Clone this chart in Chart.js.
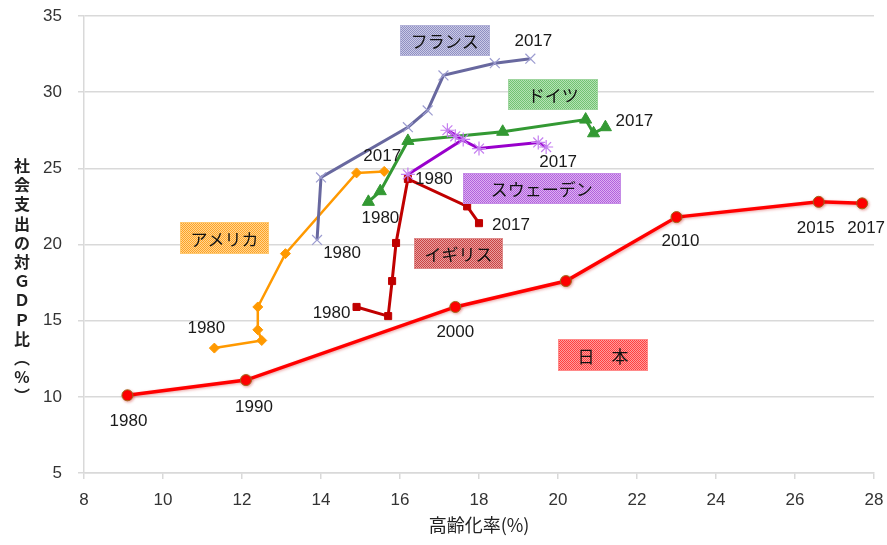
<!DOCTYPE html>
<html><head><meta charset="utf-8">
<script src="https://cdn.jsdelivr.net/npm/chart.js@4/dist/chart.umd.min.js"></script>
<style>html,body{margin:0;padding:0;background:#fff;}canvas{display:block;}</style>
</head><body>
<canvas id="c" width="887" height="545"></canvas>
<script>
// ---- data (x: 高齢化率 %, y: 社会支出の対GDP比 %) ----
const japanX   = [9.1, 12.1, 17.4, 20.2, 23.0, 26.6, 27.7];
const japanY   = [10.1, 11.1, 15.9, 17.6, 21.8, 22.8, 22.7];
const japanYears = ['1980', '1990', '2000', '', '2010', '2015', '2017'];

const usaX     = [11.3, 12.5, 12.4, 12.4, 13.1, 14.9, 15.6];
const usaY     = [13.2, 13.7, 14.4, 15.9, 19.4, 24.7, 24.8];
const usaYears = ['1980', '', '', '', '', '', '2017'];

const ukX      = [14.9, 15.7, 15.8, 15.9, 16.2, 17.7, 18.0];
const ukY      = [15.9, 15.3, 17.6, 20.1, 24.3, 22.5, 21.4];
const ukYears  = ['1980', '', '', '', '', '', '2017'];

const franceX  = [13.9, 14.0, 16.2, 16.7, 17.1, 18.4, 19.3];
const franceY  = [20.3, 24.4, 27.7, 28.8, 31.1, 31.9, 32.2];
const franceYears = ['1980', '', '', '', '', '', '2017'];

const germanyX = [15.2, 15.5, 16.2, 18.6, 20.7, 20.9, 21.2];
const germanyY = [22.8, 23.5, 26.8, 27.4, 28.2, 27.3, 27.7];
const germanyYears = ['1980', '', '', '', '', '', '2017'];

const swedenX  = [16.2, 17.6, 17.2, 17.4, 18.0, 19.5, 19.7];
const swedenY  = [24.6, 26.9, 27.5, 27.1, 26.3, 26.7, 26.4];
const swedenYears = ['1980', '', '', '', '', '', '2017'];

const countryNames = ['スウェーデン', 'ドイツ', 'イギリス', 'フランス', 'アメリカ', '日　本'];
// box anchor (data coordinates) for each country name
const boxAnchorX = [19.59, 19.88, 17.48, 17.13, 11.56, 21.14];
const boxAnchorY = [23.69, 29.83, 19.38, 33.40, 20.40, 12.73];

const xTicksMin = 8, xTicksMax = 28, xStep = 2;
const yTicksMin = 5, yTicksMax = 35, yStep = 5;
const xTitle = '高齢化率(%)';
const yTitleChars = ['社','会','支','出','の','対','Ｇ','Ｄ','Ｐ','比','︵','%','︶'];

// ---- styles ----
const toPts = (xs, ys) => xs.map((v, i) => ({x: v, y: ys[i]}));

const boxStyles = [
  {w: 158, h: 31, c1: '#b262dc', c2: '#dcb0f2', border: '#c58be6'},
  {w: 90,  h: 31, c1: '#72c272', c2: '#b4e2b4', border: '#9fd59f'},
  {w: 89,  h: 31, c1: '#c94444', c2: '#ea9e9e', border: '#de8a8a'},
  {w: 90,  h: 31, c1: '#9090c2', c2: '#cacae6', border: '#b2b2d8'},
  {w: 89,  h: 32, c1: '#ffa424', c2: '#ffd494', border: '#ffc870'},
  {w: 90,  h: 32, c1: '#ff4040', c2: '#ff9c9c', border: '#ff8a8a'}
];
// year label offsets (px) relative to the point, per dataset index & point index
const yearOffsets = [
  {0: [26, 5],   6: [12, 15]},          // Sweden
  {0: [12, 16],  6: [29, -6]},          // Germany
  {0: [-25, 6],  6: [32, 2]},           // UK
  {0: [25, 13],  6: [3, -17]},          // France
  {0: [-8, -20], 6: [-2, -15]},         // USA
  {0: [1, 26], 1: [8, 27], 2: [0, 25], 4: [4, 24], 5: [-3, 26], 6: [4, 25]} // Japan
];

function makePattern(ctx, c1, c2) {
  const p = document.createElement('canvas');
  p.width = 2; p.height = 2;
  const g = p.getContext('2d');
  g.fillStyle = c2; g.fillRect(0, 0, 2, 2);
  g.fillStyle = c1; g.fillRect(0, 0, 1, 1); g.fillRect(1, 1, 1, 1);
  return ctx.createPattern(p, 'repeat');
}

const annot = {
  id: 'annot',
  beforeDatasetDraw(chart, args) {
    if (args.index === 5) {
      const ctx = chart.ctx;
      ctx.save();
      ctx.shadowColor = 'rgba(200,0,0,0.35)';
      ctx.shadowBlur = 3;
      ctx.shadowOffsetX = 1; ctx.shadowOffsetY = 1;
    }
  },
  afterDatasetDraw(chart, args) {
    if (args.index === 5) chart.ctx.restore();
  },
  afterDatasetsDraw(chart) {
    const {ctx, scales: {x, y}} = chart;
    ctx.save();
    // year labels
    ctx.font = '17px "Liberation Sans", Arial, sans-serif';
    ctx.fillStyle = '#1a1a1a';
    ctx.textAlign = 'center';
    ctx.textBaseline = 'middle';
    chart.data.datasets.forEach((ds, di) => {
      const offs = yearOffsets[di];
      ds.years.forEach((yr, i) => {
        if (!yr || !offs[i]) return;
        const px = x.getPixelForValue(ds.data[i].x) + offs[i][0];
        const py = y.getPixelForValue(ds.data[i].y) + offs[i][1];
        ctx.fillText(yr, px, py);
      });
    });
    // country boxes
    ctx.font = '17px "Noto Sans CJK JP", sans-serif';
    countryNames.forEach((name, i) => {
      const s = boxStyles[i];
      const cx = x.getPixelForValue(boxAnchorX[i]);
      const cy = y.getPixelForValue(boxAnchorY[i]);
      const l = Math.round(cx - s.w / 2), t = Math.round(cy - s.h / 2);
      ctx.fillStyle = makePattern(ctx, s.c1, s.c2);
      ctx.fillRect(l, t, s.w, s.h);
      ctx.strokeStyle = s.border;
      ctx.lineWidth = 1;
      ctx.strokeRect(l + 0.5, t + 0.5, s.w - 1, s.h - 1);
      ctx.fillStyle = '#111';
      ctx.fillText(name, cx, cy + 1);
    });
    ctx.restore();
  },
  afterDraw(chart) {
    const {ctx, chartArea} = chart;
    ctx.save();
    ctx.fillStyle = '#222';
    ctx.textAlign = 'center';
    ctx.textBaseline = 'middle';
    ctx.font = '18px "Noto Sans CJK JP", sans-serif';
    ctx.fillText(xTitle, (chartArea.left + chartArea.right) / 2, 525);
    ctx.font = 'bold 16px "Noto Sans CJK JP", sans-serif';
    const step = 19.2, start = 166;
    yTitleChars.forEach((ch, i) => ctx.fillText(ch, 22, start + i * step));
    ctx.restore();
  }
};

const mk = (label, xs, ys, years, color, style) => Object.assign({
  label, data: toPts(xs, ys), years,
  showLine: true, borderColor: color, backgroundColor: color,
  pointBackgroundColor: color, pointBorderColor: color,
  tension: 0, clip: false
}, style);

const datasets = [
  mk('スウェーデン', swedenX, swedenY, swedenYears, '#9900cc',
     {borderWidth: 3, pointStyle: 'star', pointRadius: 7, pointBorderColor: '#c57ff0', pointBorderWidth: 1.2}),
  mk('ドイツ', germanyX, germanyY, germanyYears, '#339933',
     {borderWidth: 3, pointStyle: 'triangle', pointRadius: 7, pointBorderWidth: 1}),
  mk('イギリス', ukX, ukY, ukYears, '#c00000',
     {borderWidth: 3, pointStyle: 'rect', pointRadius: 5, pointBorderWidth: 1}),
  mk('フランス', franceX, franceY, franceYears, '#68689f',
     {borderWidth: 3, pointStyle: 'crossRot', pointRadius: 7, pointBorderColor: '#9c9cd0', pointBorderWidth: 1.2}),
  mk('アメリカ', usaX, usaY, usaYears, '#ff9900',
     {borderWidth: 2.5, pointStyle: 'rectRot', pointRadius: 5, pointBorderWidth: 1}),
  mk('日本', japanX, japanY, japanYears, '#ff0000',
     {borderWidth: 3.5, pointStyle: 'circle', pointRadius: 5.5, pointBorderColor: '#9c6a1a', pointBorderWidth: 1})
];

new Chart(document.getElementById('c'), {
  type: 'scatter',
  data: {datasets},
  options: {
    responsive: false,
    devicePixelRatio: 1,
    animation: false,
    events: [],
    layout: {padding: {top: 16, right: 13, bottom: 0, left: 0}},
    plugins: {legend: {display: false}, tooltip: {enabled: false}},
    scales: {
      x: {
        type: 'linear', min: xTicksMin, max: xTicksMax,
        ticks: {stepSize: xStep, color: '#333', padding: 11,
                font: {family: '"Liberation Sans", Arial, sans-serif', size: 17}},
        grid: {drawOnChartArea: false, drawTicks: true, tickLength: 6, color: '#d9d9d9', lineWidth: 1.5},
        border: {display: true, color: '#d9d9d9', width: 1.5},
        afterFit(s) { s.height = 72; s.paddingLeft = 0; s.paddingRight = 0; }
      },
      y: {
        type: 'linear', min: yTicksMin, max: yTicksMax,
        ticks: {stepSize: yStep, color: '#333', padding: 16,
                font: {family: '"Liberation Sans", Arial, sans-serif', size: 17}},
        grid: {color: '#d9d9d9', lineWidth: 1.5, drawTicks: true, tickLength: 6},
        border: {display: true, color: '#d9d9d9', width: 1.5},
        afterFit(s) { s.width = 84; s.paddingTop = 0; s.paddingBottom = 0; }
      }
    }
  },
  plugins: [annot]
});
</script>
</body></html>
